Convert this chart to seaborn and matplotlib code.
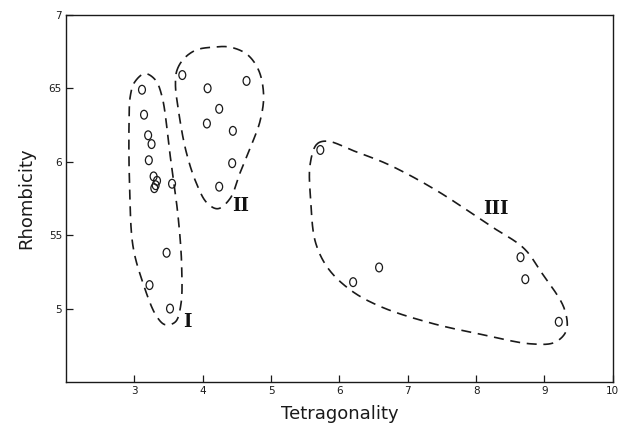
import numpy as np
import pandas as pd
import matplotlib
matplotlib.use("Agg")
import matplotlib.pyplot as plt
from matplotlib.path import Path
from matplotlib.transforms import Affine2D
import seaborn as sns

# measured points, one list per group
g1_x = [3.11, 3.14, 3.20, 3.25, 3.21, 3.28, 3.33, 3.31, 3.29, 3.55, 3.47, 3.22, 3.52]
g1_y = [6.49, 6.32, 6.18, 6.12, 6.01, 5.90, 5.87, 5.84, 5.82, 5.85, 5.38, 5.16, 5.00]
g2_x = [3.70, 4.07, 4.64, 4.24, 4.06, 4.44, 4.43, 4.24]
g2_y = [6.59, 6.50, 6.55, 6.36, 6.26, 6.21, 5.99, 5.83]
g3_x = [5.72, 6.58, 6.20, 8.65, 8.72, 9.21]
g3_y = [6.08, 5.28, 5.18, 5.35, 5.20, 4.91]

# hand drawn group outlines (rough control points)
env1 = [(3.00, 6.54), (3.15, 6.60), (3.30, 6.56), (3.40, 6.45), (3.52, 6.05),
        (3.64, 5.62), (3.69, 5.30), (3.68, 5.03), (3.60, 4.91), (3.45, 4.89),
        (3.32, 4.95), (3.12, 5.18), (2.98, 5.42), (2.93, 5.80), (2.92, 6.25),
        (2.94, 6.45)]
env2 = [(3.62, 6.62), (3.72, 6.70), (3.90, 6.76), (4.15, 6.78), (4.40, 6.78),
        (4.65, 6.73), (4.82, 6.62), (4.89, 6.45), (4.84, 6.28), (4.70, 6.10),
        (4.55, 5.93), (4.40, 5.75), (4.22, 5.68), (4.06, 5.72), (3.90, 5.86),
        (3.75, 6.08), (3.64, 6.36), (3.60, 6.52)]
env3 = [(5.67, 6.12), (5.82, 6.14), (6.23, 6.07), (6.72, 5.98), (7.40, 5.81),
        (8.22, 5.56), (8.70, 5.41), (8.95, 5.25), (9.29, 5.00), (9.32, 4.85),
        (9.15, 4.77), (8.80, 4.76), (8.12, 4.82), (7.35, 4.90), (6.62, 5.01),
        (6.18, 5.12), (5.84, 5.27), (5.65, 5.45), (5.58, 5.73), (5.57, 5.98)]

group_labels = ["I", "II", "III"]
label_pos = [(3.77, 4.91), (4.56, 5.70), (8.29, 5.68)]

x_ticks = [3, 4, 5, 6, 7, 8, 9, 10]
y_ticks = [5, 5.5, 6, 6.5, 7]
y_tick_labels = ["5", "55", "6", "65", "7"]

df = pd.DataFrame({
    "tet": g1_x + g2_x + g3_x,
    "rho": g1_y + g2_y + g3_y,
})


def closed_curve(pts, n=30, yscale=2.15, alpha=0.5):
    # periodic centripetal catmull-rom, done in roughly screen-shaped units
    p = np.array(pts, dtype=float)
    p[:, 1] *= yscale
    k = len(p)
    out = []
    for i in range(k):
        P = [p[(i - 1) % k], p[i], p[(i + 1) % k], p[(i + 2) % k]]
        t = [0.0]
        for j in range(3):
            t.append(t[-1] + np.linalg.norm(P[j + 1] - P[j]) ** alpha)
        tt = np.linspace(t[1], t[2], n, endpoint=False)[:, None]
        A1 = (t[1] - tt) / (t[1] - t[0]) * P[0] + (tt - t[0]) / (t[1] - t[0]) * P[1]
        A2 = (t[2] - tt) / (t[2] - t[1]) * P[1] + (tt - t[1]) / (t[2] - t[1]) * P[2]
        A3 = (t[3] - tt) / (t[3] - t[2]) * P[2] + (tt - t[2]) / (t[3] - t[2]) * P[3]
        B1 = (t[2] - tt) / (t[2] - t[0]) * A1 + (tt - t[0]) / (t[2] - t[0]) * A2
        B2 = (t[3] - tt) / (t[3] - t[1]) * A2 + (tt - t[1]) / (t[3] - t[1]) * A3
        out.append((t[2] - tt) / (t[2] - t[1]) * B1 + (tt - t[1]) / (t[2] - t[1]) * B2)
    out = np.vstack(out + [out[0][:1]])
    out[:, 1] /= yscale
    return out[:, 0], out[:, 1]


sns.set_theme(style="white")
plt.rcParams["font.family"] = ["DejaVu Sans"]

fig = plt.figure(figsize=(6.24, 4.24), dpi=100)
ax = fig.add_axes([0.106, 0.099, 0.876, 0.866])

# slightly tall open ellipse, like the plotted "0"s
oval = Path.unit_circle().transformed(Affine2D().scale(0.78, 1.0))
sns.scatterplot(data=df, x="tet", y="rho", marker=oval, s=40,
                facecolors="none", edgecolor="#1a1a1a", linewidth=0.9, ax=ax)

for env in [env1, env2, env3]:
    cx, cy = closed_curve(env)
    ax.plot(cx, cy, color="#1a1a1a", lw=1.2, linestyle=(0, (6, 4)))

for lab, (lx, ly) in zip(group_labels, label_pos):
    ax.text(lx, ly, lab, ha="center", va="center", fontsize=13,
            fontweight="bold", family="DejaVu Serif", color="#111111")

ax.set_xlim(2, 10)
ax.set_ylim(4.5, 7)
ax.set_xticks(x_ticks)
ax.set_xticklabels([str(t) for t in x_ticks])
ax.set_yticks(y_ticks)
ax.set_yticklabels(y_tick_labels)
ax.tick_params(direction="in", length=5, width=0.9, colors="#1a1a1a",
               labelsize=7.5, pad=3, bottom=True, left=True)
for sp in ax.spines.values():
    sp.set_color("#1a1a1a")
    sp.set_linewidth(1.0)

ax.set_xlabel("Tetragonality", fontsize=13, color="#1a1a1a", labelpad=6)
ax.set_ylabel("Rhombicity", fontsize=13, color="#1a1a1a", labelpad=10)

fig.savefig("out.png", dpi=100)
